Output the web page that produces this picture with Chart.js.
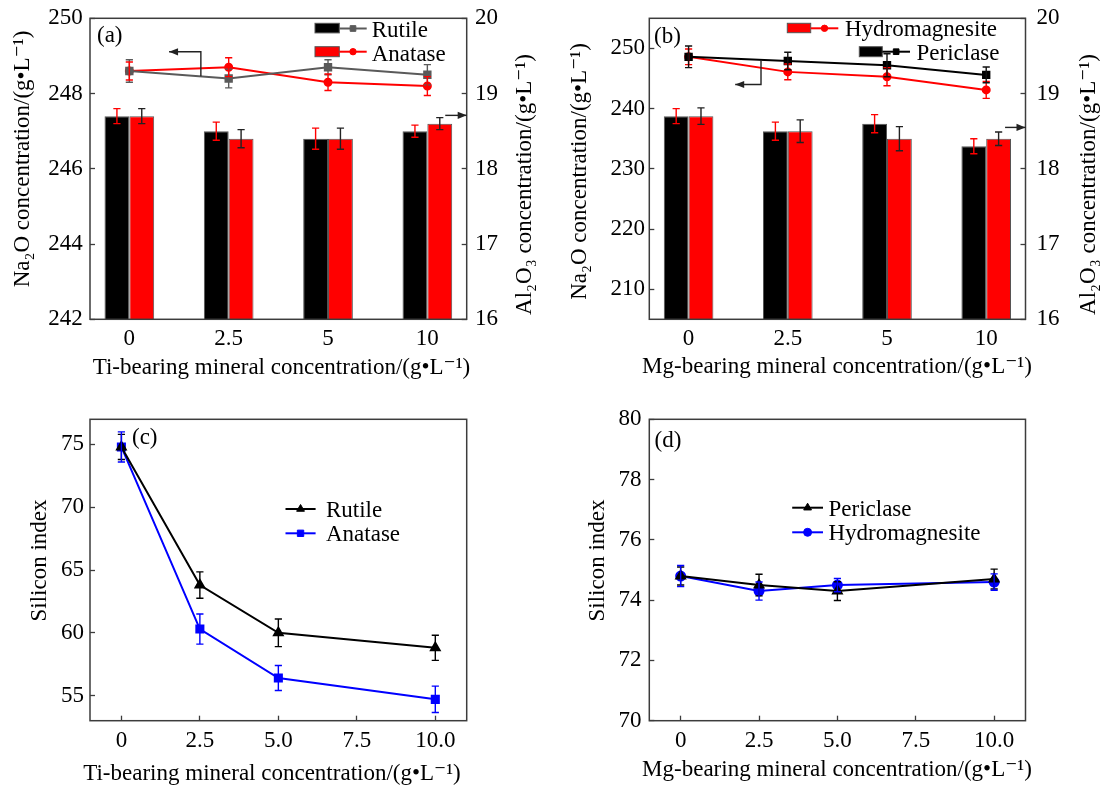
<!DOCTYPE html>
<html><head><meta charset="utf-8">
<script src="https://cdn.jsdelivr.net/npm/chart.js@4.4.1/dist/chart.umd.min.js"></script>
<style>
html,body{margin:0;padding:0;background:#fff;}
#wrap{position:relative;width:1101px;height:787px;overflow:hidden;}
canvas{position:absolute;left:0;top:0;}
</style></head><body>
<div id="wrap">
<canvas id="ca" width="1101" height="787"></canvas>
<canvas id="cb" width="1101" height="787"></canvas>
<canvas id="cc" width="1101" height="787"></canvas>
<canvas id="cd" width="1101" height="787"></canvas>
</div>
<script>
// ---------- DATA ----------
const barCats = ['0', '2.5', '5', '10'];
const lineX = [0, 2.5, 5, 10];
const lineTicks = [0, 2.5, 5, 7.5, 10];
const lineTickLabels = ['0', '2.5', '5.0', '7.5', '10.0'];

// Panel (a) Ti-bearing minerals
const aRutileNa2O = [248.6, 248.4, 248.7, 248.5];
const aRutileNa2OErr = [0.3, 0.25, 0.2, 0.27];
const aAnataseNa2O = [248.6, 248.7, 248.3, 248.2];
const aAnataseNa2OErr = [0.24, 0.25, 0.22, 0.25];
const aRutileAl2O3 = [18.7, 18.5, 18.4, 18.5];
const aRutileAl2O3Err = [0.1, 0.12, 0.14, 0.08];
const aAnataseAl2O3 = [18.7, 18.4, 18.4, 18.6];
const aAnataseAl2O3Err = [0.1, 0.12, 0.14, 0.08];
const aLeftTicks = [242, 244, 246, 248, 250];
const aRightTicks = [16, 17, 18, 19, 20];

// Panel (b) Mg-bearing minerals
const bPericlaseNa2O = [248.6, 247.9, 247.2, 245.6];
const bPericlaseNa2OErr = [1.8, 1.45, 1.9, 1.3];
const bHydroNa2O = [248.6, 246.1, 245.3, 243.1];
const bHydroNa2OErr = [1.3, 1.3, 1.5, 1.4];
const bPericlaseAl2O3 = [18.7, 18.5, 18.6, 18.3];
const bPericlaseAl2O3Err = [0.1, 0.12, 0.12, 0.1];
const bHydroAl2O3 = [18.7, 18.5, 18.4, 18.4];
const bHydroAl2O3Err = [0.11, 0.15, 0.16, 0.09];
const bLeftTicks = [210, 220, 230, 240, 250];
const bRightTicks = [16, 17, 18, 19, 20];

// Panel (c) silicon index, Ti-bearing
const cRutile = [74.8, 63.8, 60.0, 58.8];
const cRutileErr = [1.0, 1.05, 1.1, 1.0];
const cAnatase = [74.8, 60.3, 56.4, 54.7];
const cAnataseErr = [1.2, 1.2, 1.0, 1.05];
const cYTicks = [55, 60, 65, 70, 75];

// Panel (d) silicon index, Mg-bearing
const dPericlase = [74.8, 74.5, 74.3, 74.7];
const dPericlaseErr = [0.3, 0.36, 0.31, 0.33];
const dHydro = [74.8, 74.3, 74.5, 74.6];
const dHydroErr = [0.35, 0.3, 0.22, 0.27];
const dYTicks = [70, 72, 74, 76, 78, 80];

// ---------- STYLE ----------
const FONT = '"Liberation Serif","Times New Roman","DejaVu Serif",serif';
const FS = 23;
const AX = '#3c3c3c';
const W = 1101, H = 787;
const RED = '#ff0000', BLUE = '#0000ff', GRAY = '#5a5a5a';

function fixSize(size) {
  return s => {
    if (s.isHorizontal()) s.height = size; else s.width = size;
    s.paddingTop = 0; s.paddingBottom = 0; s.paddingLeft = 0; s.paddingRight = 0;
  };
}
function setTicks(list) { return s => { s.ticks = list.map(v => ({ value: v })); }; }

function yAxis(pos, min, max, ticks, width, pad) {
  return {
    type: 'linear', position: pos, min: min, max: max,
    afterBuildTicks: setTicks(ticks),
    afterFit: fixSize(width),
    grid: { drawOnChartArea: false, drawTicks: true, tickLength: -5, color: AX, tickColor: AX, tickWidth: 1.3 },
    border: { display: false },
    ticks: { color: '#000', font: { family: FONT, size: FS }, padding: pad, autoSkip: false }
  };
}
function xAxisCat(min, max, pad) {
  return {
    type: 'linear', position: 'bottom', min: min, max: max, offset: false,
    afterBuildTicks: setTicks(barCats.map((c, i) => i)),
    afterFit: fixSize(40),
    grid: { offset: false, drawOnChartArea: false, drawTicks: false },
    border: { display: false },
    ticks: { color: '#000', font: { family: FONT, size: FS }, padding: pad, autoSkip: false, maxRotation: 0,
      callback: (v) => barCats[Math.round(v)] }
  };
}
function xAxisLin(pad) {
  return {
    type: 'linear', position: 'bottom', min: -1, max: 11,
    afterBuildTicks: setTicks(lineTicks),
    afterFit: fixSize(40),
    grid: { drawOnChartArea: false, drawTicks: true, tickLength: -5, color: AX, tickColor: AX, tickWidth: 1.3 },
    border: { display: false },
    ticks: { color: '#000', font: { family: FONT, size: FS }, padding: pad, autoSkip: false, maxRotation: 0,
      callback: (v, i) => lineTickLabels[i] }
  };
}
function layoutPad(area, leftW, rightW, bottomH) {
  return { padding: { left: area.l - leftW, top: area.t, right: W - area.r - rightW, bottom: H - area.b - bottomH } };
}
function xy(xs, ys) { return ys.map((v, i) => ({ x: xs[i], y: v })); }
const catIdx = barCats.map((c, i) => i);

function txt(ctx, s, x, y, o) {
  o = o || {};
  ctx.save();
  ctx.font = (o.size || FS) + 'px ' + FONT;
  ctx.fillStyle = o.color || '#000';
  ctx.textAlign = o.align || 'left';
  ctx.textBaseline = o.baseline || 'alphabetic';
  ctx.translate(x, y);
  if (o.rot) ctx.rotate(o.rot);
  ctx.fillText(s, 0, 0);
  ctx.restore();
}
function marker(ctx, style, x, y, r, color) {
  ctx.save();
  ctx.fillStyle = color; ctx.strokeStyle = color; ctx.lineWidth = 1;
  Chart.helpers.drawPoint(ctx, { pointStyle: style, radius: r, rotation: 0, borderWidth: 1 }, x, y);
  ctx.restore();
}
function arrowPath(ctx, pts) {
  ctx.save();
  ctx.strokeStyle = '#222'; ctx.fillStyle = '#222'; ctx.lineWidth = 1.4;
  ctx.beginPath();
  ctx.moveTo(pts[0][0], pts[0][1]);
  for (let i = 1; i < pts.length; i++) ctx.lineTo(pts[i][0], pts[i][1]);
  ctx.stroke();
  const [x1, y1] = pts[pts.length - 2], [x2, y2] = pts[pts.length - 1];
  const ang = Math.atan2(y2 - y1, x2 - x1);
  const L = 9, Wd = 3.6;
  ctx.beginPath();
  ctx.moveTo(x2, y2);
  ctx.lineTo(x2 - L * Math.cos(ang) + Wd * Math.sin(ang), y2 - L * Math.sin(ang) - Wd * Math.cos(ang));
  ctx.lineTo(x2 - L * Math.cos(ang) - Wd * Math.sin(ang), y2 - L * Math.sin(ang) + Wd * Math.cos(ang));
  ctx.closePath();
  ctx.fill();
  ctx.restore();
}

function deco(cfg) {
  return {
    id: 'deco_' + cfg.name,
    afterDatasetsDraw(chart) {
      const ctx = chart.ctx;
      (cfg.errors || []).forEach(e => {
        const meta = chart.getDatasetMeta(e.ds);
        const ds = chart.data.datasets[e.ds];
        const ys = chart.scales[ds.yAxisID || 'y'];
        ctx.save();
        ctx.strokeStyle = e.color; ctx.lineWidth = 1.4;
        meta.data.forEach((el, i) => {
          const v = ds.data[i].y;
          const x = el.x;
          const yt = ys.getPixelForValue(v + e.err[i]), yb = ys.getPixelForValue(v - e.err[i]);
          const c = 3.6;
          ctx.beginPath();
          ctx.moveTo(x, yt); ctx.lineTo(x, yb);
          ctx.moveTo(x - c, yt); ctx.lineTo(x + c, yt);
          ctx.moveTo(x - c, yb); ctx.lineTo(x + c, yb);
          ctx.stroke();
        });
        ctx.restore();
      });
    },
    afterDraw(chart) {
      const ctx = chart.ctx, a = chart.chartArea;
      ctx.save();
      ctx.strokeStyle = AX; ctx.lineWidth = 1.5;
      ctx.strokeRect(a.left, a.top, a.right - a.left, a.bottom - a.top);
      ctx.restore();
      // panel label
      txt(ctx, cfg.panel[0], cfg.panel[1], cfg.panel[2]);
      // axis titles
      (cfg.titles || []).forEach(t => {
        if (t.rot) txt(ctx, t.s, t.x, t.y, { align: 'center', baseline: 'middle', rot: -Math.PI / 2 });
        else txt(ctx, t.s, t.x, t.y, { align: 'center' });
      });
      // legend
      (cfg.legend || []).forEach(r => {
        if (r.box) {
          ctx.save();
          ctx.fillStyle = r.box; ctx.strokeStyle = '#555'; ctx.lineWidth = 1;
          ctx.fillRect(r.bx, r.by, r.bw, r.bh);
          ctx.strokeRect(r.bx, r.by, r.bw, r.bh);
          ctx.restore();
        }
        ctx.save();
        ctx.strokeStyle = r.color; ctx.lineWidth = 2;
        ctx.beginPath(); ctx.moveTo(r.lx1, r.ly); ctx.lineTo(r.lx2, r.ly); ctx.stroke();
        ctx.restore();
        marker(ctx, r.marker, (r.lx1 + r.lx2) / 2, r.ly, r.mr, r.color);
        txt(ctx, r.text, r.tx, r.ty);
      });
      // arrows (in data coordinates)
      (cfg.arrows || []).forEach(ar => {
        const xs = chart.scales.x;
        const pts = ar.pts.map(p => [p[0] === 'R' ? a.right : xs.getPixelForValue(p[0]), chart.scales[ar.axis].getPixelForValue(p[1])]);
        arrowPath(ctx, pts);
      });
    }
  };
}

const common = { responsive: false, animation: false, events: [], plugins: { legend: { display: false }, tooltip: { enabled: false } } };

// ---------- PANEL (a) ----------
const areaA = { l: 90, r: 466.7, t: 18.3, b: 319.3 };
new Chart(document.getElementById('ca'), {
  type: 'bar',
  data: { datasets: [
    { type: 'line', label: 'Rutile', data: xy(catIdx, aRutileNa2O), yAxisID: 'y', borderColor: GRAY, backgroundColor: GRAY, pointStyle: 'rect', pointRadius: 4.5, borderWidth: 2, tension: 0, order: 1 },
    { type: 'line', label: 'Anatase', data: xy(catIdx, aAnataseNa2O), yAxisID: 'y', borderColor: RED, backgroundColor: RED, pointStyle: 'circle', pointRadius: 3.5, borderWidth: 2, tension: 0, order: 1 },
    { type: 'bar', label: 'Rutile', data: xy(catIdx, aRutileAl2O3), yAxisID: 'y1', backgroundColor: '#000', borderColor: '#555', borderWidth: 1, categoryPercentage: 0.5, barPercentage: 1, order: 2 },
    { type: 'bar', label: 'Anatase', data: xy(catIdx, aAnataseAl2O3), yAxisID: 'y1', backgroundColor: RED, borderColor: '#555', borderWidth: 1, categoryPercentage: 0.5, barPercentage: 1, order: 2 }
  ] },
  options: Object.assign({}, common, {
    layout: layoutPad(areaA, 90, 60, 40),
    scales: {
      x: xAxisCat(-0.396, 3.396, 5.5),
      y: yAxis('left', 242, 250, aLeftTicks, 90, 12.3),
      y1: yAxis('right', 16, 20, aRightTicks, 60, 13.3)
    }
  }),
  plugins: [deco({
    name: 'a',
    panel: ['(a)', 97, 41.5],
    errors: [
      { ds: 2, err: aRutileAl2O3Err, color: RED },
      { ds: 3, err: aAnataseAl2O3Err, color: '#222' },
      { ds: 0, err: aRutileNa2OErr, color: GRAY },
      { ds: 1, err: aAnataseNa2OErr, color: RED }
    ],
    titles: [
      { s: 'Na₂O concentration/(g•L⁻¹)', x: 23, y: 159, rot: true },
      { s: 'Al₂O₃ concentration/(g•L⁻¹)', x: 525, y: 184.5, rot: true },
      { s: 'Ti-bearing mineral concentration/(g•L⁻¹)', x: 281.5, y: 373.5 }
    ],
    legend: [
      { box: '#000', bx: 315, by: 23.3, bw: 24.3, bh: 9.6, color: GRAY, lx1: 339.3, lx2: 366.7, ly: 28.5, marker: 'rect', mr: 4, text: 'Rutile', tx: 371.7, ty: 36.7 },
      { box: RED, bx: 315, by: 46.7, bw: 24.3, bh: 10, color: RED, lx1: 339.3, lx2: 366.7, ly: 51.7, marker: 'circle', mr: 3.2, text: 'Anatase', tx: 371.7, ty: 61 }
    ],
    arrows: [
      { axis: 'y', pts: [[0.72, 248.46], [0.72, 249.11], [0.40, 249.11]] },
      { axis: 'y1', pts: [[3.18, 18.71], ['R', 18.71]] }
    ]
  })]
});

// ---------- PANEL (b) ----------
const areaB = { l: 649.3, r: 1025.5, t: 18.3, b: 319.3 };
new Chart(document.getElementById('cb'), {
  type: 'bar',
  data: { datasets: [
    { type: 'line', label: 'Periclase', data: xy(catIdx, bPericlaseNa2O), yAxisID: 'y', borderColor: '#000', backgroundColor: '#000', pointStyle: 'rect', pointRadius: 4.5, borderWidth: 2, tension: 0, order: 1 },
    { type: 'line', label: 'Hydromagnesite', data: xy(catIdx, bHydroNa2O), yAxisID: 'y', borderColor: RED, backgroundColor: RED, pointStyle: 'circle', pointRadius: 3.5, borderWidth: 2, tension: 0, order: 1 },
    { type: 'bar', label: 'Periclase', data: xy(catIdx, bPericlaseAl2O3), yAxisID: 'y1', backgroundColor: '#000', borderColor: '#555', borderWidth: 1, categoryPercentage: 0.5, barPercentage: 1, order: 2 },
    { type: 'bar', label: 'Hydromagnesite', data: xy(catIdx, bHydroAl2O3), yAxisID: 'y1', backgroundColor: RED, borderColor: '#555', borderWidth: 1, categoryPercentage: 0.5, barPercentage: 1, order: 2 }
  ] },
  options: Object.assign({}, common, {
    layout: layoutPad(areaB, 99.3, 60, 40),
    scales: {
      x: xAxisCat(-0.396, 3.396, 5.5),
      y: yAxis('left', 205, 255, bLeftTicks, 99.3, 9.3),
      y1: yAxis('right', 16, 20, bRightTicks, 60, 16)
    }
  }),
  plugins: [deco({
    name: 'b',
    panel: ['(b)', 654, 42.5],
    errors: [
      { ds: 2, err: bPericlaseAl2O3Err, color: RED },
      { ds: 3, err: bHydroAl2O3Err, color: '#222' },
      { ds: 1, err: bHydroNa2OErr, color: RED },
      { ds: 0, err: bPericlaseNa2OErr, color: '#111' }
    ],
    titles: [
      { s: 'Na₂O concentration/(g•L⁻¹)', x: 580, y: 171.5, rot: true },
      { s: 'Al₂O₃ concentration/(g•L⁻¹)', x: 1089, y: 184.5, rot: true },
      { s: 'Mg-bearing mineral concentration/(g•L⁻¹)', x: 837, y: 373 }
    ],
    legend: [
      { box: RED, bx: 787.3, by: 23.3, bw: 23.4, bh: 9.4, color: RED, lx1: 810.7, lx2: 838.3, ly: 28.3, marker: 'circle', mr: 3.2, text: 'Hydromagnesite', tx: 845, ty: 36 },
      { box: '#000', bx: 859.3, by: 46.7, bw: 23, bh: 10, color: '#000', lx1: 882.3, lx2: 910, ly: 51.7, marker: 'rect', mr: 4, text: 'Periclase', tx: 916.5, ty: 60 }
    ],
    arrows: [
      { axis: 'y', pts: [[0.73, 248.07], [0.73, 244.0], [0.47, 244.0]] },
      { axis: 'y1', pts: [[3.19, 18.55], ['R', 18.55]] }
    ]
  })]
});

// ---------- PANEL (c) ----------
const areaC = { l: 90, r: 466.7, t: 419.3, b: 720.7 };
new Chart(document.getElementById('cc'), {
  type: 'line',
  data: { datasets: [
    { label: 'Rutile', data: xy(lineX, cRutile), borderColor: '#000', backgroundColor: '#000', pointStyle: 'triangle', pointRadius: 5, borderWidth: 2, tension: 0 },
    { label: 'Anatase', data: xy(lineX, cAnatase), borderColor: BLUE, backgroundColor: BLUE, pointStyle: 'rect', pointRadius: 5, borderWidth: 2, tension: 0 }
  ] },
  options: Object.assign({}, common, {
    layout: layoutPad(areaC, 90, 0, 40),
    scales: {
      x: xAxisLin(11.1),
      y: yAxis('left', 53, 77, cYTicks, 90, 11)
    }
  }),
  plugins: [deco({
    name: 'c',
    panel: ['(c)', 132, 443.5],
    errors: [
      { ds: 0, err: cRutileErr, color: '#000' },
      { ds: 1, err: cAnataseErr, color: BLUE }
    ],
    titles: [
      { s: 'Silicon index', x: 40, y: 560.5, rot: true },
      { s: 'Ti-bearing mineral concentration/(g•L⁻¹)', x: 272, y: 779.5 }
    ],
    legend: [
      { color: '#000', lx1: 285.5, lx2: 315.6, ly: 509, marker: 'triangle', mr: 4.5, text: 'Rutile', tx: 326, ty: 516.5 },
      { color: BLUE, lx1: 285.5, lx2: 315.6, ly: 533.3, marker: 'rect', mr: 4.5, text: 'Anatase', tx: 326, ty: 540.5 }
    ]
  })]
});

// ---------- PANEL (d) ----------
const areaD = { l: 649.3, r: 1025.5, t: 419.3, b: 720.7 };
new Chart(document.getElementById('cd'), {
  type: 'line',
  data: { datasets: [
    { label: 'Periclase', data: xy(lineX, dPericlase), borderColor: '#000', backgroundColor: '#000', pointStyle: 'triangle', pointRadius: 5, borderWidth: 2, tension: 0 },
    { label: 'Hydromagnesite', data: xy(lineX, dHydro), borderColor: BLUE, backgroundColor: BLUE, pointStyle: 'circle', pointRadius: 4.5, borderWidth: 2, tension: 0 }
  ] },
  options: Object.assign({}, common, {
    layout: layoutPad(areaD, 99.3, 0, 40),
    scales: {
      x: xAxisLin(11.1),
      y: yAxis('left', 70, 80, dYTicks, 99.3, 12.8)
    }
  }),
  plugins: [deco({
    name: 'd',
    panel: ['(d)', 654.5, 446.5],
    errors: [
      { ds: 0, err: dPericlaseErr, color: '#000' },
      { ds: 1, err: dHydroErr, color: BLUE }
    ],
    titles: [
      { s: 'Silicon index', x: 598, y: 560.5, rot: true },
      { s: 'Mg-bearing mineral concentration/(g•L⁻¹)', x: 837, y: 775.5 }
    ],
    legend: [
      { color: '#000', lx1: 792.2, lx2: 823, ly: 507.7, marker: 'triangle', mr: 4.5, text: 'Periclase', tx: 828.5, ty: 516 },
      { color: BLUE, lx1: 792.2, lx2: 823, ly: 532.3, marker: 'circle', mr: 4, text: 'Hydromagnesite', tx: 828.5, ty: 540 }
    ]
  })]
});
</script>
</body></html>
